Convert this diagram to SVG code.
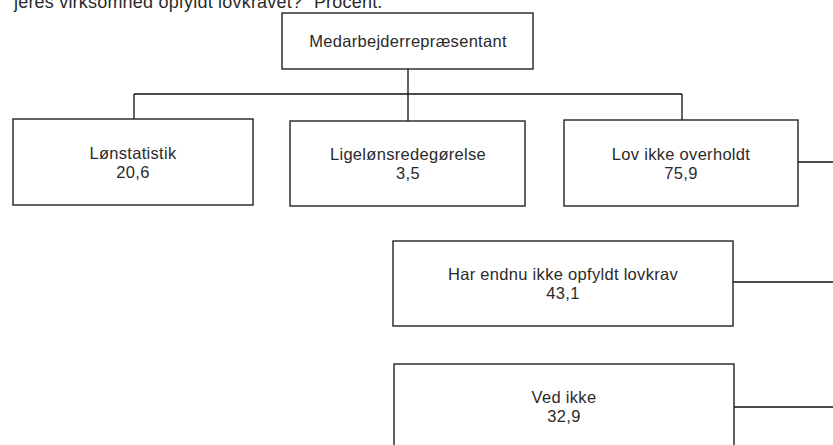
<svg xmlns="http://www.w3.org/2000/svg" width="833" height="445" viewBox="0 0 833 445">
<style>
.box{fill:#fff;stroke:#222;stroke-width:1.4}
.t{font-family:"Liberation Sans",Arial,sans-serif;font-size:16.5px;letter-spacing:0.3px;fill:#2a2a2a;text-anchor:middle}
.c{fill:none;stroke:#111;stroke-width:1.3}
</style>
<rect width="833" height="445" fill="#fff"/>
<text x="14" y="8" style="font-family:'Liberation Sans',Arial,sans-serif;font-size:18px;fill:#2a2a2a;letter-spacing:0.2px">jeres virksomhed opfyldt lovkravet?" Procent.</text>
<g id="connectors">
<path class="c" d="M408 69V94M134 94H682M134 94V119M408 94V121M682 94V120"/>
<path class="c" d="M798 162H833M733 282H833M734 407H833"/>
</g>
<g id="n-top"><rect class="box" x="282" y="13" width="251" height="56"/><text class="t" x="408" y="47">Medarbejderrepræsentant</text></g>
<g id="n-lon"><rect class="box" x="13" y="119" width="240" height="86"/><text class="t" x="133" y="159">Lønstatistik</text><text class="t" x="133" y="178">20,6</text></g>
<g id="n-lige"><rect class="box" x="290" y="121" width="235" height="85"/><text class="t" x="408" y="160">Ligelønsredegørelse</text><text class="t" x="408" y="179">3,5</text></g>
<g id="n-lov"><rect class="box" x="564" y="120" width="234" height="86"/><text class="t" x="681" y="160">Lov ikke overholdt</text><text class="t" x="681" y="179">75,9</text></g>
<g id="n-har"><rect class="box" x="393" y="241" width="340" height="85"/><text class="t" x="563" y="280">Har endnu ikke opfyldt lovkrav</text><text class="t" x="563" y="299">43,1</text></g>
<g id="n-ved"><rect class="box" x="394" y="364" width="340" height="90"/><text class="t" x="564" y="403">Ved ikke</text><text class="t" x="564" y="422">32,9</text></g>
</svg>
